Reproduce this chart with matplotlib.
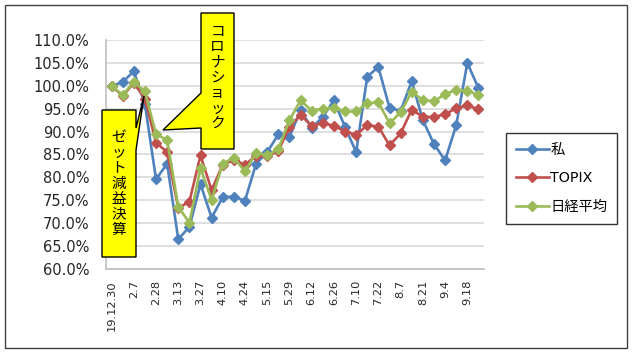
import matplotlib
matplotlib.use("Agg")
import matplotlib.pyplot as plt
from matplotlib.patches import Polygon, Rectangle
from matplotlib.ticker import FuncFormatter, MultipleLocator

plt.rcParams['font.family'] = ['DejaVu Sans', 'Noto Sans CJK JP']

categories = ['19.12.30', '1.24', '2.7', '2.14', '2.28', '3.6', '3.13', '3.19', '3.27', '4.3',
              '4.10', '4.17', '4.24', '5.8', '5.15', '5.22', '5.29', '6.5', '6.12', '6.19',
              '6.26', '7.3', '7.10', '7.16', '7.22', '7.31', '8.7', '8.14', '8.21', '8.28',
              '9.4', '9.11', '9.18', '9.25']

watashi = [100, 100.8, 103.2, 96, 79.6, 83, 66.5, 69.2, 78.5, 71.2,
           75.7, 75.8, 74.9, 83, 85.5, 89.4, 88.8, 94.7, 90.8, 93.2,
           96.8, 91, 85.5, 102, 104.1, 95.2, 94.5, 101, 92.5, 87.3,
           83.7, 91.4, 105, 99.5]
topix = [100, 97.8, 100.6, 97.2, 87.6, 85.5, 73.3, 74.7, 84.8, 77.2,
         82.8, 83.8, 82.8, 84.7, 84.6, 85.8, 91, 93.6, 91.3, 91.8,
         91.3, 90, 89.3, 91.4, 91.1, 87, 89.6, 94.8, 93.2, 93.2,
         93.8, 95.1, 95.7, 94.9]
nikkei = [100, 98, 100.8, 98.8, 89.4, 88.2, 73.6, 70.1, 82, 75.1,
          83, 84.3, 81.3, 85.4, 84.8, 86.2, 92.5, 96.8, 94.6, 95,
          95.2, 94.4, 94.4, 96.2, 96.4, 91.8, 94.2, 98.7, 96.9, 96.6,
          98.2, 99.1, 98.9, 98]

series_names = ['私', 'TOPIX', '日経平均']
colors = ['#4F81BD', '#C0504D', '#9BBB59']

W, H = 632, 353
fig = plt.figure(figsize=(W / 100, H / 100), dpi=100)
ax = fig.add_axes([106 / W, 1 - 269 / H, (484 - 106) / W, (269 - 40) / H])

x = list(range(len(categories)))
for vals, name, c in zip([watashi, topix, nikkei], series_names, colors):
    ax.plot(x, vals, color=c, lw=1.9, marker='D', ms=5.6, mec=c, mfc=c, label=name,
            solid_joinstyle='round')

ax.set_xlim(-0.5, len(categories) - 0.5)
ax.set_ylim(60, 110)
ax.yaxis.set_major_locator(MultipleLocator(5))
ax.yaxis.set_major_formatter(FuncFormatter(lambda v, p: f'{v:.1f}%'))
ax.set_xticks(x[::2])
ax.set_xticklabels(categories[::2], rotation=90, fontsize=8.2, va='top', ha='center')
ax.tick_params(axis='both', length=0)
ax.tick_params(axis='y', labelsize=10.5, pad=12, colors='#262626')
ax.tick_params(axis='x', pad=8, colors='#262626')
ax.grid(axis='y', color='#D9D9D9', lw=1.2)
ax.set_axisbelow(True)
for s in ['top', 'right']:
    ax.spines[s].set_visible(False)
for s in ['left', 'bottom']:
    ax.spines[s].set_color('#BFBFBF')
    ax.spines[s].set_linewidth(1.2)

leg = ax.legend(loc='upper left', bbox_to_anchor=(506 / W, 1 - 133 / H),
                bbox_transform=fig.transFigure, borderaxespad=0, fontsize=10.3,
                handlelength=2.3, handletextpad=0.1, labelspacing=1.0,
                borderpad=0.7, fancybox=False, frameon=True)
leg.get_frame().set_edgecolor('#000000')
leg.get_frame().set_linewidth(1.0)


def px(pts):
    return [(a / W, 1 - b / H) for a, b in pts]


callout1 = px([(201, 13), (234, 13), (234, 149), (201, 149), (201, 128), (163, 130), (201, 93)])
callout2 = px([(102, 110), (136, 110), (136, 128), (144, 96), (136, 150), (136, 257), (102, 257)])
for poly in [callout1, callout2]:
    fig.patches.append(Polygon(poly, closed=True, transform=fig.transFigure,
                               facecolor='#FFFF00', edgecolor='#000000', lw=1.0, zorder=5))

label1 = 'コロナショック'
label2 = 'ゼット減益決算'
fig.text(217.5 / W, 1 - 78 / H, '\n'.join(label1), ha='center', va='center',
         fontsize=10.5, family=['Noto Sans CJK JP'], linespacing=1.12, zorder=6)
fig.text(119 / W, 1 - 184 / H, '\n'.join(label2), ha='center', va='center',
         fontsize=10.5, family=['Noto Sans CJK JP'], linespacing=1.12, zorder=6)

fig.patches.append(Rectangle((5 / W, 1 - 348 / H), 622 / W, 343 / H, transform=fig.transFigure,
                             fill=False, edgecolor='#404040', lw=1.0, zorder=0))

fig.savefig('out.png', dpi=100)
